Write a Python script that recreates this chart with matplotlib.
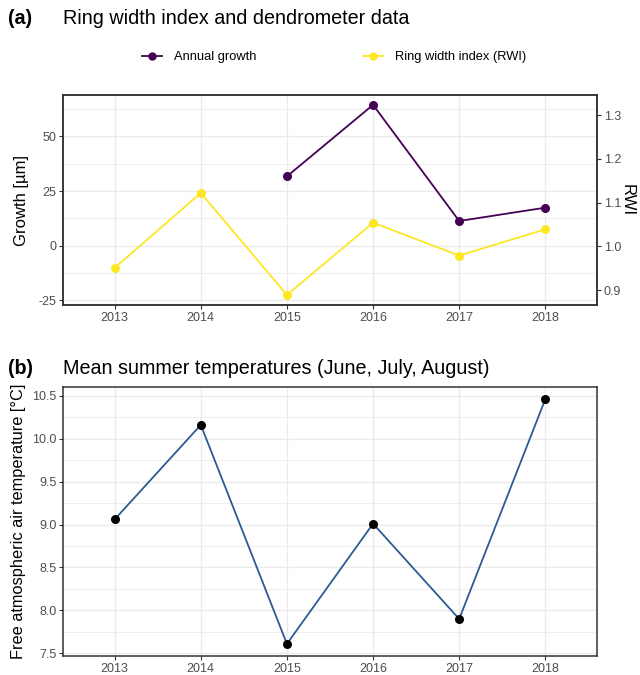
import matplotlib.pyplot as plt
from matplotlib.ticker import MultipleLocator
from matplotlib.lines import Line2D

plt.rcParams['font.family'] = ['Liberation Sans', 'DejaVu Sans']

years = [2013, 2014, 2015, 2016, 2017, 2018]
growth_years = [2015, 2016, 2017, 2018]
growth = [31.7, 64.4, 11.3, 17.4]
rwi = [0.951, 1.122, 0.889, 1.054, 0.979, 1.039]
temp = [9.06, 10.16, 7.61, 9.01, 7.90, 10.46]

PURPLE = '#440154'
YELLOW = '#FDE725'
BLUE = '#2E5A94'
GRID = '#EBEBEB'
TICKC = '#4D4D4D'
BORDER = '#333333'

W, H = 640, 675
fig = plt.figure(figsize=(W / 100, H / 100), dpi=100)


def style(ax, minor_y):
    ax.set_xlim(2012.4, 2018.6)
    ax.set_xticks(years)
    ax.yaxis.set_minor_locator(MultipleLocator(minor_y))
    ax.grid(True, which='major', color=GRID, lw=1.0, zorder=0)
    ax.grid(True, which='minor', axis='y', color=GRID, lw=0.6, zorder=0)
    ax.set_axisbelow(True)
    for s in ax.spines.values():
        s.set_color(BORDER)
        s.set_linewidth(1.1)
    ax.tick_params(which='major', length=3, color=BORDER, labelsize=9,
                   labelcolor=TICKC, pad=1.8)
    ax.tick_params(which='minor', length=0)


# panel (a)
ax1 = fig.add_axes([63 / W, 1 - 305 / H, 534 / W, 210 / H])
style(ax1, 12.5)
ax1.set_ylim(-27.1, 68.9)
ax1.set_yticks([-25, 0, 25, 50])
ax1.yaxis.set_major_formatter(plt.FuncFormatter(lambda v, p: f'{v:.0f}'))
ax1.plot(growth_years, growth, color=PURPLE, lw=1.3, marker='o', ms=5.5, zorder=3)
ax1.set_ylabel('Growth [µm]', fontsize=12, labelpad=7)

ax2 = ax1.twinx()
ax2.set_ylim(0.866, 1.346)
ax2.set_yticks([0.9, 1.0, 1.1, 1.2, 1.3])
ax2.plot(years, rwi, color=YELLOW, lw=1.3, marker='o', ms=5.5, zorder=3)
ax2.tick_params(length=3, color=BORDER, labelsize=9, labelcolor=TICKC, pad=1.8)
for s in ax2.spines.values():
    s.set_color(BORDER)
    s.set_linewidth(1.1)
ax2.set_ylabel('RWI', fontsize=12, rotation=270, labelpad=10)

fig.text(8 / W, 1 - 18 / H, '(a)', fontsize=14.2, fontweight='bold', va='center')
fig.text(63 / W, 1 - 18 / H, 'Ring width index and dendrometer data',
         fontsize=14.2, va='center')

handles = [Line2D([], [], color=PURPLE, lw=1.3, marker='o', ms=5),
           Line2D([], [], color=YELLOW, lw=1.3, marker='o', ms=5)]
fig.legend(handles, ['Annual growth', 'Ring width index (RWI)'],
           loc='center', bbox_to_anchor=(334 / W, 1 - 57 / H), ncol=2,
           frameon=False, fontsize=9.3, handlelength=1.55, handletextpad=0.9,
           columnspacing=8.3)

# panel (b)
ax3 = fig.add_axes([63 / W, 1 - 656 / H, 534 / W, 268.7 / H])
style(ax3, 0.25)
ax3.set_ylim(7.469, 10.598)
ax3.set_yticks([7.5, 8.0, 8.5, 9.0, 9.5, 10.0, 10.5])
ax3.yaxis.set_major_formatter(plt.FormatStrFormatter('%.1f'))
ax3.plot(years, temp, color=BLUE, lw=1.3, zorder=2)
ax3.scatter(years, temp, color='black', s=30, zorder=3)
ax3.set_ylabel('Free atmospheric air temperature [°C]', fontsize=11.8, labelpad=4)

fig.text(8 / W, 1 - 369 / H, '(b)', fontsize=14.2, fontweight='bold', va='center')
fig.text(63 / W, 1 - 369 / H, 'Mean summer temperatures (June, July, August)',
         fontsize=14.2, va='center')

fig.savefig('out.png', dpi=100)
